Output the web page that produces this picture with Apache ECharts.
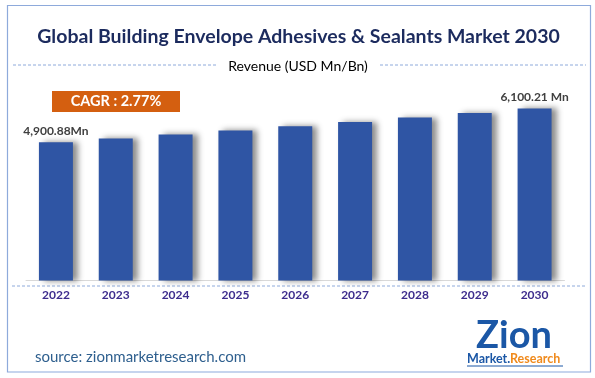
<!DOCTYPE html>
<html>
<head>
<meta charset="utf-8">
<script src="https://cdn.jsdelivr.net/npm/echarts@6/dist/echarts.min.js"></script>
<style>html,body{margin:0;padding:0;background:#fff}#c{width:595px;height:378px}</style>
</head>
<body>
<div id="c"></div>
<script>
const years = ['2022','2023','2024','2025','2026','2027','2028','2029','2030'];
const revenue = [4900.88, 5037, 5176, 5320, 5467, 5618, 5774, 5934, 6100.21];
const endLabels = {0: '4,900.88Mn', 8: '6,100.21 Mn'};
const titleText = 'Global Building Envelope Adhesives & Sealants Market 2030';
const subtitleText = 'Revenue (USD Mn/Bn)';
const cagrText = 'CAGR : 2.77%';
const sourceText = 'source: zionmarketresearch.com';

const chart = echarts.init(document.getElementById('c'), null, {renderer: 'canvas'});
const fontFam = 'Lato, "Open Sans", sans-serif';
chart.setOption({
  animation: false,
  grid: {left: 26, right: 30.5, top: 83, bottom: 97.5, containLabel: false},
  xAxis: {
    type: 'category', data: years,
    axisLine: {show: true, lineStyle: {color: '#d9d9d9', width: 1}},
    axisTick: {show: false},
    axisLabel: {color: '#3d2c8d', fontWeight: 'bold', fontSize: 12, fontFamily: fontFam, margin: 9}
  },
  yAxis: {type: 'value', min: 0, max: 7000, show: false, splitLine: {show: false}},
  series: [{
    type: 'bar', data: revenue, barWidth: 34,
    itemStyle: {color: '#2f55a4', shadowColor: 'rgba(0,0,0,0.45)', shadowBlur: 6, shadowOffsetX: 5, shadowOffsetY: 0},
    label: {
      show: true, position: 'top', distance: 5,
      color: '#404040', fontWeight: 'bold', fontSize: 12, fontFamily: fontFam,
      formatter: p => endLabels[p.dataIndex] || ''
    }
  }],
  graphic: [
    {type: 'rect', shape: {x: 7.5, y: 5.5, width: 583, height: 366.5}, style: {fill: 'none', stroke: '#8eaadb', lineWidth: 1.2}, silent: true},
    {type: 'text', x: 298.5, y: 37, style: {text: titleText, fill: '#1c2b5e', font: 'bold 19.5px ' + fontFam, textAlign: 'center', textVerticalAlign: 'middle'}},
    {type: 'text', x: 298, y: 66, style: {text: subtitleText, fill: '#000', font: '14px ' + fontFam, textAlign: 'center', textVerticalAlign: 'middle'}},
    {type: 'line', shape: {x1: 13, y1: 65, x2: 216, y2: 65}, style: {stroke: '#8eaadb', lineWidth: 1, lineDash: [3, 2]}},
    {type: 'line', shape: {x1: 380, y1: 65, x2: 586, y2: 65}, style: {stroke: '#8eaadb', lineWidth: 1, lineDash: [3, 2]}},
    {type: 'line', shape: {x1: 12, y1: 286, x2: 586, y2: 286}, style: {stroke: '#8eaadb', lineWidth: 1, lineDash: [3, 2]}},
    {type: 'rect', shape: {x: 52, y: 91, width: 128, height: 21}, style: {fill: '#d45f10'}},
    {type: 'text', x: 116, y: 101.5, style: {text: cagrText, fill: '#fff', font: 'bold 14.5px ' + fontFam, textAlign: 'center', textVerticalAlign: 'middle'}},
    {type: 'text', x: 35, y: 357, style: {text: sourceText, fill: '#2e5f8e', font: '15px ' + fontFam, textAlign: 'left', textVerticalAlign: 'middle'}},
    {type: 'text', x: 514, y: 336, style: {text: 'Zion', fill: '#1b57a6', font: 'bold 38px ' + fontFam, textAlign: 'center', textVerticalAlign: 'middle'}},
    {type: 'text', x: 467, y: 359, style: {text: 'Market.', fill: '#1b57a6', font: 'bold 12.5px ' + fontFam, textAlign: 'left', textVerticalAlign: 'middle'}},
    {type: 'text', x: 510, y: 359, style: {text: 'Research', fill: '#f08a1c', font: 'bold 12.5px ' + fontFam, textAlign: 'left', textVerticalAlign: 'middle'}},
    {type: 'line', shape: {x1: 467, y1: 366, x2: 563, y2: 366}, style: {stroke: '#1b57a6', lineWidth: 1}}
  ]
});
</script>
</body>
</html>
